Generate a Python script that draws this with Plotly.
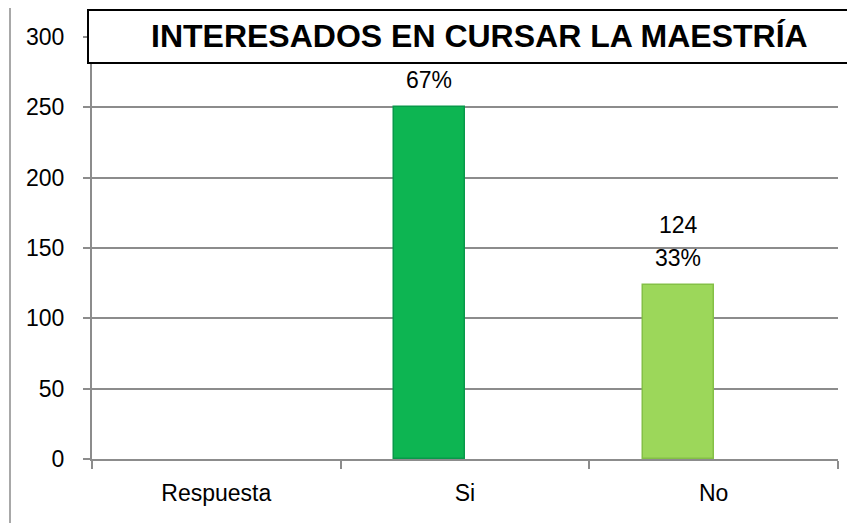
import plotly.graph_objects as go

# ---- data ----
categories = ["Respuesta", "Si", "No"]
values = [None, 250, 124]
show_count = [False, False, True]   # the "250" label sits hidden behind the title box
bar_colors = ["#0DB552", "#0DB552", "#9CD75A"]
line_colors = ["#08994A", "#08994A", "#84C046"]
y_ticks = [0, 50, 100, 150, 200, 250, 300]
title_text = "INTERESADOS EN CURSAR LA MAESTRÍA"

total = sum(v for v in values if v is not None)

W = 1 / 3.5          # bar width in category units (Excel gap width 150%, 2 series)
FONT = "Liberation Sans, Arial, sans-serif"

fig = go.Figure()
fig.add_trace(go.Bar(
    x=categories,
    y=values,
    width=W,
    offset=-W,
    marker=dict(color=bar_colors, line=dict(color=line_colors, width=1.5)),
    hoverinfo="skip",
    showlegend=False,
))

annotations = []
for i, (c, v) in enumerate(zip(categories, values)):
    if v is None:
        continue
    xc = i - W / 2
    pct = f"{round(100 * v / total)}%"
    annotations.append(dict(x=xc, y=v, xref="x", yref="y", text=pct, showarrow=False,
                            yanchor="middle", yshift=27,
                            font=dict(family=FONT, size=23, color="#000000")))
    if show_count[i]:
        annotations.append(dict(x=xc, y=v, xref="x", yref="y", text=str(v), showarrow=False,
                                yanchor="middle", yshift=60,
                                font=dict(family=FONT, size=23, color="#000000")))

# title text (box drawn as a shape)
annotations.append(dict(x=0.52, y=(459 - 36.5) / 422, xref="paper", yref="paper",
                        text=f"<b>{title_text}</b>", showarrow=False,
                        xanchor="center", yanchor="middle",
                        font=dict(family="Liberation Sans, Arial, sans-serif", size=32, color="#000000")))

shapes = [
    # outer chart border
    dict(type="rect", xref="paper", yref="paper",
         x0=(10 - 92) / 746, x1=1.2, y0=-0.3, y1=(459 - 7) / 422,
         line=dict(color="#8C8C8C", width=1.5), fillcolor="rgba(0,0,0,0)", layer="below"),
    # title box
    dict(type="rect", xref="paper", yref="paper",
         x0=(88 - 92) / 746, x1=(872 - 92) / 746, y0=(459 - 63) / 422, y1=(459 - 10) / 422,
         line=dict(color="#000000", width=2), fillcolor="#FFFFFF", layer="above"),
]

# the page body has an 8px margin, so the figure is 8px smaller on each axis
fig.update_layout(
    width=847, height=515, autosize=False,
    margin=dict(l=84, r=17, t=29, b=64),
    paper_bgcolor="#FFFFFF", plot_bgcolor="#FFFFFF",
    font=dict(family=FONT, size=23, color="#000000"),
    annotations=annotations,
    shapes=shapes,
    bargap=0,
)
fig.update_xaxes(
    type="category", range=[-0.5, 2.5],
    showline=True, linecolor="#8C8C8C", linewidth=2,
    ticks="outside", tickson="boundaries", ticklen=8, tickcolor="#8C8C8C", tickwidth=2,
    showgrid=False, ticklabelstandoff=12,
    tickfont=dict(family=FONT, size=23, color="#000000"),
)
fig.update_yaxes(
    range=[0, 300], tickvals=y_ticks, ticktext=[str(t) for t in y_ticks],
    showline=True, linecolor="#8C8C8C", linewidth=2,
    ticks="outside", ticklen=7, tickcolor="#8C8C8C", tickwidth=2,
    showgrid=True, gridcolor="#8C8C8C", gridwidth=2,
    zeroline=False, ticklabelstandoff=14,
    tickfont=dict(family=FONT, size=23, color="#000000"),
)

fig.write_html("out.html")
